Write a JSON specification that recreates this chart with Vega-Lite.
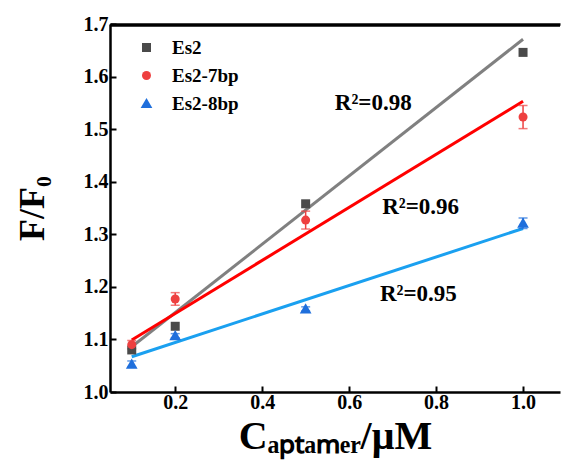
{
  "$schema": "https://vega.github.io/schema/vega-lite/v6.json",
  "width": 450,
  "height": 368,
  "autosize": "none",
  "padding": {"left": 110, "top": 24, "right": 2, "bottom": 81},
  "background": "white",
  "config": {
    "view": {"stroke": null},
    "font": "Liberation Serif",
    "axis": {
      "domainColor": "black", "domainWidth": 2.5,
      "tickColor": "black", "tickWidth": 2, "tickSize": -6,
      "grid": false,
      "labelFont": "Liberation Serif", "labelFontWeight": "bold", "labelFontSize": 20, "labelColor": "black",
      "titleFont": "Liberation Serif", "titleFontWeight": "bold", "titleColor": "black"
    },
    "legend": {
      "labelFont": "Liberation Serif", "labelFontWeight": "bold", "labelFontSize": 19, "labelColor": "black"
    }
  },
  "datasets": {
    "pts": [
      {"series": "Es2", "x": 0.1, "y": 1.080},
      {"series": "Es2", "x": 0.2, "y": 1.125},
      {"series": "Es2", "x": 0.5, "y": 1.358},
      {"series": "Es2", "x": 1.0, "y": 1.646},
      {"series": "Es2-7bp", "x": 0.1, "y": 1.090},
      {"series": "Es2-7bp", "x": 0.2, "y": 1.177},
      {"series": "Es2-7bp", "x": 0.5, "y": 1.327},
      {"series": "Es2-7bp", "x": 1.0, "y": 1.523},
      {"series": "Es2-8bp", "x": 0.1, "y": 1.053},
      {"series": "Es2-8bp", "x": 0.2, "y": 1.107},
      {"series": "Es2-8bp", "x": 0.5, "y": 1.158},
      {"series": "Es2-8bp", "x": 1.0, "y": 1.321}
    ],
    "err": [
      {"errseries": "Es2-7bp err", "x": 0.1, "lo": 1.082, "hi": 1.098},
      {"errseries": "Es2-7bp err", "x": 0.2, "lo": 1.165, "hi": 1.189},
      {"errseries": "Es2-7bp err", "x": 0.5, "lo": 1.310, "hi": 1.344},
      {"errseries": "Es2-7bp err", "x": 1.0, "lo": 1.501, "hi": 1.545},
      {"errseries": "Es2-8bp err", "x": 0.1, "lo": 1.047, "hi": 1.059},
      {"errseries": "Es2-8bp err", "x": 0.2, "lo": 1.103, "hi": 1.111},
      {"errseries": "Es2-8bp err", "x": 0.5, "lo": 1.154, "hi": 1.162},
      {"errseries": "Es2-8bp err", "x": 1.0, "lo": 1.311, "hi": 1.331}
    ],
    "fit": [
      {"fitseries": "Es2 fit", "x": 0.1, "y": 1.086},
      {"fitseries": "Es2 fit", "x": 1.0, "y": 1.671},
      {"fitseries": "Es2-7bp fit", "x": 0.1, "y": 1.099},
      {"fitseries": "Es2-7bp fit", "x": 1.0, "y": 1.553},
      {"fitseries": "Es2-8bp fit", "x": 0.1, "y": 1.067},
      {"fitseries": "Es2-8bp fit", "x": 1.0, "y": 1.311}
    ],
    "frame": [
      {"x": 0.05, "y": 1.697},
      {"x": 1.085, "y": 1.697}
    ],
    "notes": [
      {"x": 0.567, "y": 1.549, "label": "R²=0.98"},
      {"x": 0.676, "y": 1.352, "label": "R²=0.96"},
      {"x": 0.671, "y": 1.186, "label": "R²=0.95"}
    ]
  },
  "layer": [
    {
      "data": {"name": "fit"},
      "mark": {"type": "line", "strokeWidth": 3},
      "encoding": {
        "x": {"field": "x", "type": "quantitative", "scale": {"domain": [0.05, 1.085], "nice": false, "zero": false},
              "axis": {"orient": "bottom", "values": [0.2, 0.4, 0.6, 0.8, 1.0], "format": ".1f", "title": "Cₐₚₜₐₘₑᵣ/μM", "titleFontSize": 40, "labelPadding": 6, "titlePadding": 4}},
        "y": {"field": "y", "type": "quantitative", "scale": {"domain": [1.0, 1.7], "nice": false, "zero": false},
              "axis": {"values": [1.0, 1.1, 1.2, 1.3, 1.4, 1.5, 1.6, 1.7], "format": ".1f", "title": "F/F₀", "titleFontSize": 36, "labelPadding": 8, "titlePadding": 32}},
        "stroke": {"field": "fitseries", "type": "nominal",
                   "scale": {"domain": ["Es2 fit", "Es2-7bp fit", "Es2-8bp fit"], "range": ["#808080", "#ff0000", "#1aa0f0"]},
                   "legend": null}
      }
    },
    {
      "data": {"name": "frame"},
      "mark": {"type": "line", "strokeWidth": 2.5, "color": "black"},
      "encoding": {
        "x": {"field": "x", "type": "quantitative",
              "axis": {"orient": "top", "labels": false, "ticks": false, "title": null, "domain": true, "domainWidth": 2.5, "domainColor": "black"}},
        "y": {"field": "y", "type": "quantitative", "title": "F/F₀"}
      }
    },
    {
      "data": {"name": "err"},
      "mark": {"type": "errorbar", "ticks": {"size": 9}, "thickness": 1.5},
      "encoding": {
        "x": {"field": "x", "type": "quantitative", "axis": null},
        "y": {"field": "lo", "type": "quantitative", "title": "F/F₀"},
        "y2": {"field": "hi"},
        "color": {"field": "errseries", "type": "nominal", "legend": null,
                  "scale": {"domain": ["Es2-7bp err", "Es2-8bp err"], "range": ["#ee4040", "#1f6fdc"]}}
      }
    },
    {
      "data": {"name": "pts"},
      "mark": {"type": "point", "filled": true, "opacity": 1, "size": 81},
      "encoding": {
        "x": {"field": "x", "type": "quantitative", "axis": null},
        "y": {"field": "y", "type": "quantitative", "title": "F/F₀"},
        "fill": {"field": "series", "type": "nominal", "title": null,
                 "scale": {"domain": ["Es2", "Es2-7bp", "Es2-8bp"], "range": ["#4a4a4a", "#ee4040", "#1f6fdc"]},
                 "legend": {"orient": "none", "legendX": 27, "legendY": 14, "rowPadding": 8, "labelOffset": 16, "symbolSize": 81, "padding": 0}},
        "shape": {"field": "series", "type": "nominal", "title": null,
                  "scale": {"domain": ["Es2", "Es2-7bp", "Es2-8bp"], "range": ["M-1,-1H1V1H-1Z", "circle", "M0,-1.25L1.3,1H-1.3Z"]}}
      }
    },
    {
      "data": {"name": "notes"},
      "mark": {"type": "text", "align": "left", "baseline": "middle", "font": "Liberation Serif", "fontWeight": "bold", "fontSize": 23, "color": "black"},
      "encoding": {
        "x": {"field": "x", "type": "quantitative", "axis": null},
        "y": {"field": "y", "type": "quantitative", "title": "F/F₀"},
        "text": {"field": "label"}
      }
    }
  ],
  "resolve": {"axis": {"x": "independent"}}
}
